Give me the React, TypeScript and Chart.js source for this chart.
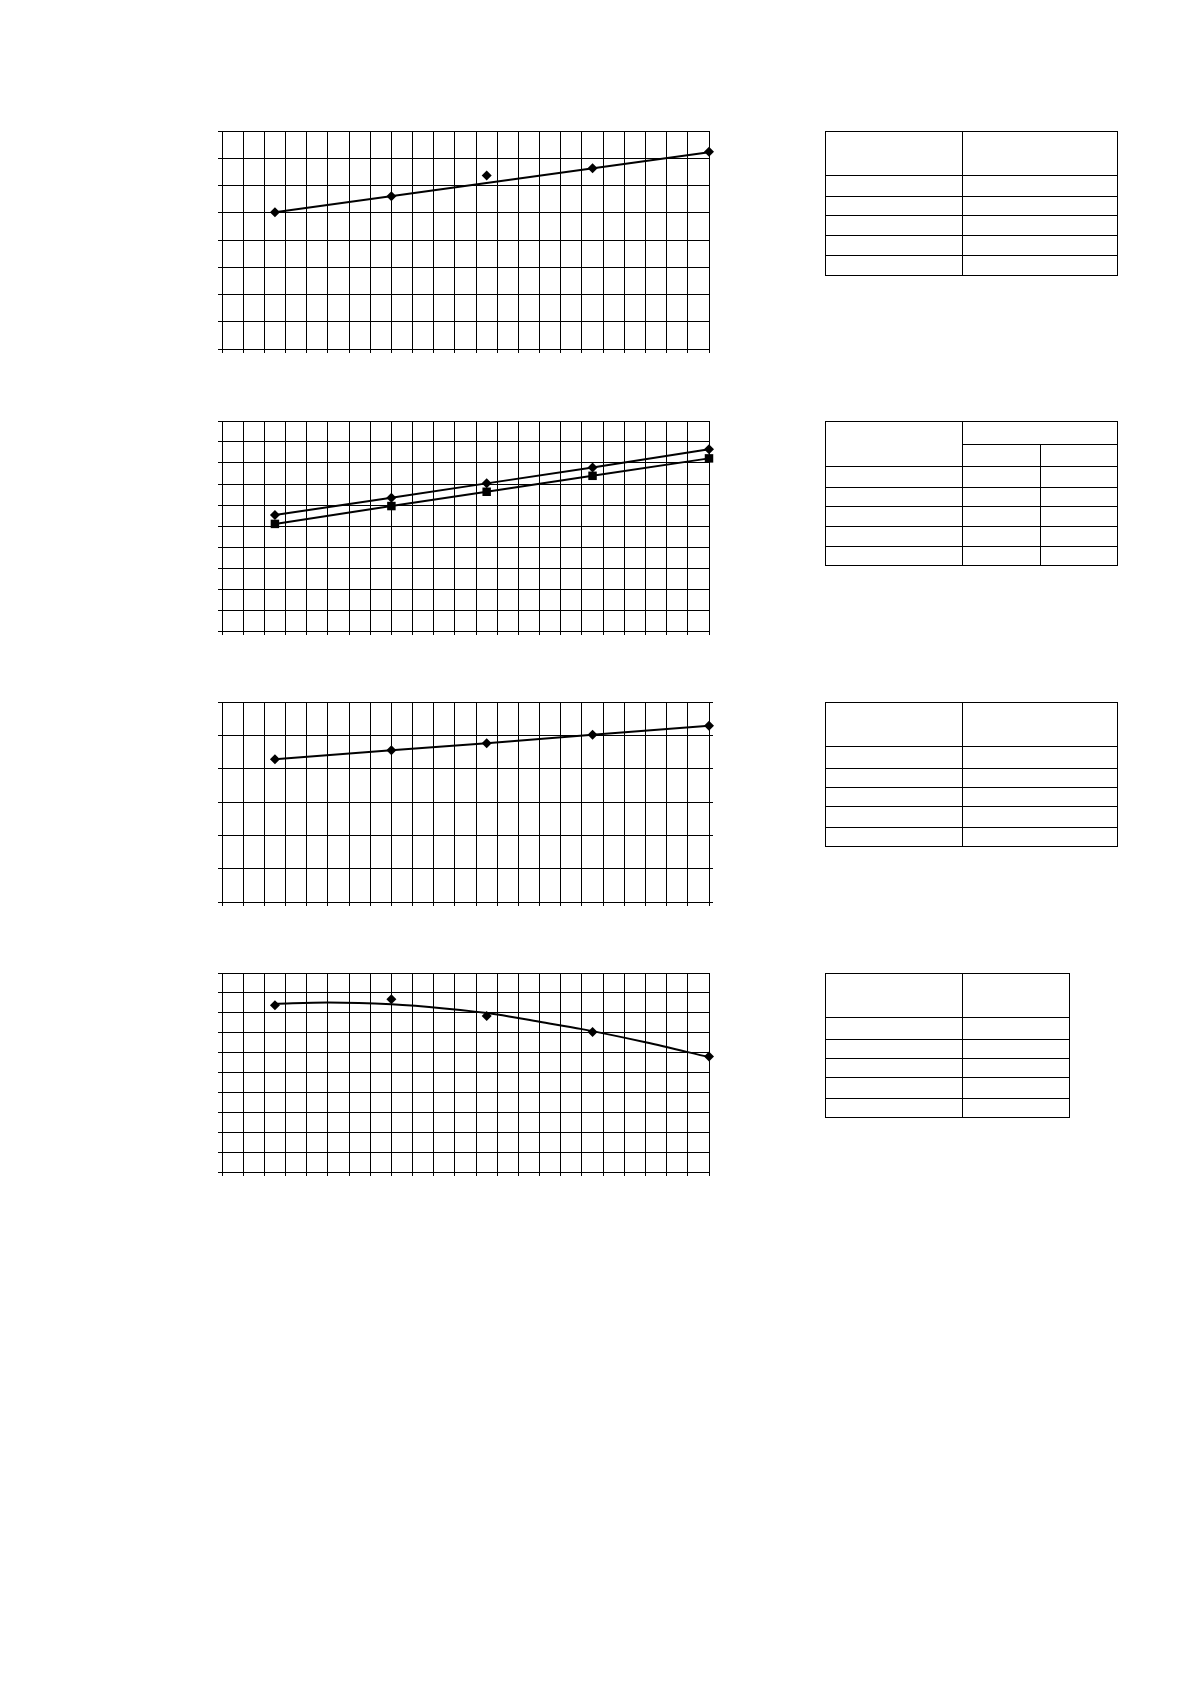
import React, { useEffect, useRef } from 'react';
import { Chart, registerables } from 'chart.js';

Chart.register(...registerables);

// x positions of the five readings, in grid columns (23 columns across)
const xValues = [2.5, 8, 12.5, 17.5, 23];

// plot 1: readings + straight trend line
const plot1Points = [5.02, 5.61, 6.37, 6.63, 7.24];
const plot1TrendX = [2.5, 23];
const plot1TrendY = [5.02, 7.22];

// plot 2: two series joined point to point
const plot2Upper = [5.52, 6.34, 7.03, 7.79, 8.65];
const plot2Lower = [5.1, 5.95, 6.63, 7.39, 8.22];

// plot 3
const plot3Points = [4.28, 4.55, 4.76, 5.02, 5.29];

// plot 4: readings + curved trend
const plot4Points = [8.38, 8.68, 7.84, 7.04, 5.8];
const plot4TrendX = [2.5, 5, 8, 10.5, 13, 15, 17, 20, 23];
const plot4TrendY = [8.46, 8.52, 8.43, 8.22, 7.92, 7.55, 7.18, 6.52, 5.77];

// grid rows per plot (x always has 23 columns)
const xColumns = 23;
const yRows = [8, 10, 6, 10];

const pairs = (xs: number[], ys: number[]) => xs.map((x, i) => ({ x, y: ys[i] }));

const black = '#000';

const markers = (data: any[], style: string, radius: number) => ({
  data,
  showLine: false,
  pointStyle: style,
  pointRadius: radius,
  pointBackgroundColor: black,
  pointBorderColor: black,
  pointBorderWidth: 0,
  clip: false,
});

const line = (data: any[], extra: any = {}) => ({
  data,
  showLine: true,
  borderColor: black,
  borderWidth: 2,
  pointRadius: 0,
  clip: false,
  ...extra,
});

interface Box { left: number; top: number; right: number; bottom: number }

interface PlotProps {
  box: Box;
  rows: number;
  datasets: any[];
  rightTicks?: boolean;
}

const GridPlot: React.FC<PlotProps> = ({ box, rows, datasets, rightTicks }) => {
  const canvasRef: any = useRef();

  useEffect(() => {
    const ctx: CanvasRenderingContext2D = canvasRef?.current?.getContext('2d')!;
    const gridOpts = { color: black, lineWidth: 1, tickLength: 4 };
    const scales: any = {
      x: {
        type: 'linear',
        min: 0,
        max: xColumns,
        ticks: { display: false, stepSize: 1 },
        grid: gridOpts,
        border: { color: black, width: 1 },
      },
      y: {
        min: 0,
        max: rows,
        ticks: { display: false, stepSize: 1 },
        grid: gridOpts,
        border: { color: black, width: 1 },
      },
    };
    if (rightTicks) {
      scales.y2 = {
        position: 'right',
        min: 0,
        max: rows,
        ticks: { display: false, stepSize: 1 },
        grid: { ...gridOpts, drawOnChartArea: false },
        border: { display: false },
      };
    }
    const chart = new Chart(ctx, {
      type: 'scatter',
      data: { datasets },
      options: {
        animation: false,
        responsive: true,
        maintainAspectRatio: false,
        layout: { padding: { left: 4, top: 8, right: rightTicks ? 4 : 8, bottom: 4 } },
        plugins: { legend: { display: false }, tooltip: { enabled: false } },
        events: [],
        scales,
      },
    } as any);
    return () => chart.destroy();
  }, [box, rows, datasets, rightTicks]);

  return (
    <div
      style={{
        position: 'absolute',
        left: box.left - 8,
        top: box.top - 8,
        width: box.right - box.left + 16,
        height: box.bottom - box.top + 16,
      }}
    >
      <canvas ref={canvasRef} />
    </div>
  );
};

interface TableProps {
  left: number;
  top: number;
  cols: number[];
  rows: number[];
  splitHeader?: boolean;
}

const cell: React.CSSProperties = { border: '1.2px solid #000', padding: 0 };

const BlankTable: React.FC<TableProps> = ({ left, top, cols, rows, splitHeader }) => {
  const bodyRows = splitHeader ? rows.slice(2) : rows.slice(1);
  return (
    <table
      style={{
        position: 'absolute',
        left,
        top,
        borderCollapse: 'collapse',
        tableLayout: 'fixed',
        width: cols.reduce((a, b) => a + b, 0),
      }}
    >
      <colgroup>
        {cols.map((w, i) => (
          <col key={i} style={{ width: w }} />
        ))}
      </colgroup>
      <tbody>
        {splitHeader ? (
          <>
            <tr style={{ height: rows[0] }}>
              <td style={cell} rowSpan={2} />
              <td style={cell} colSpan={2} />
            </tr>
            <tr style={{ height: rows[1] }}>
              <td style={cell} />
              <td style={cell} />
            </tr>
          </>
        ) : (
          <tr style={{ height: rows[0] }}>
            {cols.map((_, i) => (
              <td key={i} style={cell} />
            ))}
          </tr>
        )}
        {bodyRows.map((h, r) => (
          <tr key={r} style={{ height: h }}>
            {cols.map((_, i) => (
              <td key={i} style={cell} />
            ))}
          </tr>
        ))}
      </tbody>
    </table>
  );
};

const box1: Box = { left: 222, top: 131, right: 709, bottom: 349 };
const box2: Box = { left: 222, top: 421, right: 709, bottom: 631 };
const box3: Box = { left: 222, top: 702, right: 709, bottom: 902 };
const box4: Box = { left: 222, top: 973, right: 709, bottom: 1172 };

const datasets1 = [
  markers(pairs(xValues, plot1Points), 'rectRot', 5),
  line(pairs(plot1TrendX, plot1TrendY)),
];
const datasets2 = [
  markers(pairs(xValues, plot2Upper), 'rectRot', 5),
  markers(pairs(xValues, plot2Lower), 'rect', 6),
  line(pairs(xValues, plot2Upper)),
  line(pairs(xValues, plot2Lower)),
];
const datasets3 = [
  markers(pairs(xValues, plot3Points), 'rectRot', 5),
  line(pairs(xValues, plot3Points)),
];
const datasets4 = [
  markers(pairs(xValues, plot4Points), 'rectRot', 5),
  line(pairs(plot4TrendX, plot4TrendY), { tension: 0.4, cubicInterpolationMode: 'monotone' }),
];

export default function App() {
  return (
    <div>
      <GridPlot box={box1} rows={yRows[0]} datasets={datasets1} />
      <GridPlot box={box2} rows={yRows[1]} datasets={datasets2} />
      <GridPlot box={box3} rows={yRows[2]} datasets={datasets3} rightTicks />
      <GridPlot box={box4} rows={yRows[3]} datasets={datasets4} />

      <BlankTable left={825} top={131} cols={[137, 155]} rows={[44, 21, 19, 20, 20, 20]} />
      <BlankTable left={825} top={421} cols={[137, 78, 77]} rows={[23, 22, 21, 19, 20, 20, 19]} splitHeader />
      <BlankTable left={825} top={702} cols={[137, 155]} rows={[44, 22, 19, 19, 21, 19]} />
      <BlankTable left={825} top={973} cols={[137, 107]} rows={[44, 22, 19, 19, 21, 19]} />
    </div>
  );
}
